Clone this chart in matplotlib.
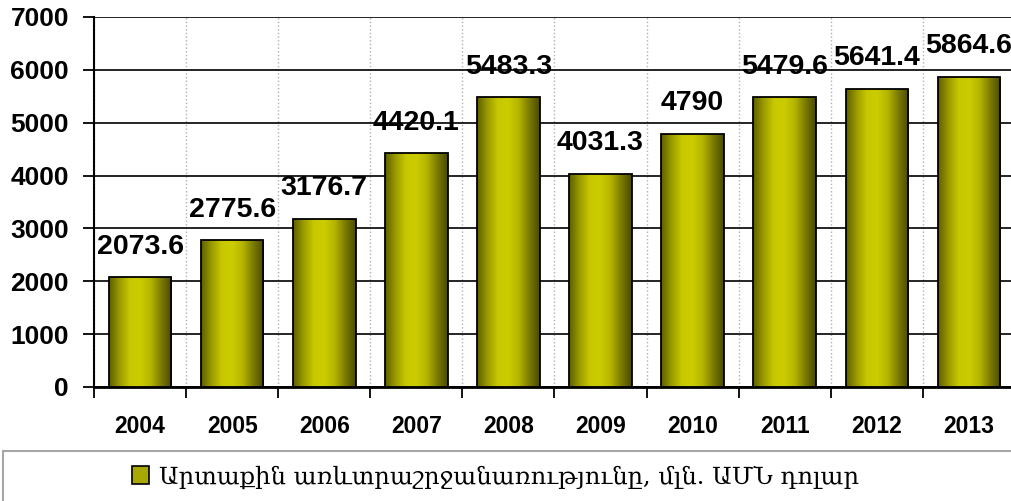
import numpy as np
import matplotlib.pyplot as plt
from matplotlib.colors import LinearSegmentedColormap
from matplotlib.patches import Rectangle

# Data
years = ['2004', '2005', '2006', '2007', '2008', '2009', '2010', '2011', '2012', '2013']
trade = [2073.6, 2775.6, 3176.7, 4420.1, 5483.3, 4031.3, 4790, 5479.6, 5641.4, 5864.6]
value_labels = ['2073.6', '2775.6', '3176.7', '4420.1', '5483.3', '4031.3', '4790', '5479.6', '5641.4', '5864.6']
series_name = 'Արտաքին առևտրաշրջանառությունը, մլն. ԱՄՆ դոլար'

plt.rcParams['font.family'] = ['Liberation Sans', 'DejaVu Sans']

fig = plt.figure(figsize=(10.12, 5.01), dpi=100)
ax = fig.add_axes([94 / 1012, 1 - 387 / 501, 1 - 94 / 1012 + 3 / 1012, 370 / 501])

x = np.arange(len(years))
bars = ax.bar(x, trade, width=0.68, facecolor='none', edgecolor='black', linewidth=1.3, zorder=4)

# cylinder-like shading on each bar
olive = LinearSegmentedColormap.from_list(
    'olive', ['#5e5e00', '#9a9a00', '#c8c800', '#cccc00', '#b4b400', '#7a7a00', '#4a4a00'])
grad = np.linspace(0, 1, 256).reshape(1, -1)
for b in bars:
    x0, w, h = b.get_x(), b.get_width(), b.get_height()
    im = ax.imshow(grad, cmap=olive, extent=[x0, x0 + w, 0, h], aspect='auto',
                   interpolation='bilinear', zorder=3)
    im.set_clip_path(b)

for xi, v, lab in zip(x, trade, value_labels):
    ax.annotate(lab, (xi, v), xytext=(0, 17), textcoords='offset points',
                ha='center', va='baseline', fontsize=20.5, fontweight='bold', zorder=5)

ax.set_xlim(-0.5, 9.5)
ax.set_ylim(0, 7000)
ax.set_yticks(range(0, 7001, 1000))
ax.set_xticks(x)
ax.set_xticklabels(years)
ax.set_xticks(np.arange(-0.5, 10, 1), minor=True)

ax.yaxis.grid(True, color='black', linewidth=1.2, zorder=1)
ax.xaxis.grid(True, which='minor', color='#b0b0b0', linestyle=':', linewidth=1.0, zorder=1)
ax.set_axisbelow(True)

ax.tick_params(axis='y', direction='out', length=8, width=1.3, pad=10, labelsize=19)
for t in ax.get_yticklabels():
    t.set_fontweight('bold')
ax.tick_params(axis='x', which='major', length=0, pad=20, labelsize=16.5)
ax.tick_params(axis='x', which='minor', direction='out', length=8, width=1.3)
for t in ax.get_xticklabels():
    t.set_fontweight('bold')

ax.spines['top'].set_visible(False)
ax.spines['right'].set_visible(False)
ax.spines['left'].set_linewidth(1.5)
ax.spines['bottom'].set_linewidth(2)

# legend area framed across the bottom
fig.patches.append(Rectangle((3 / 1012, -0.05), 1.1, 0.05 + (501 - 451) / 501,
                             transform=fig.transFigure, fill=False,
                             edgecolor='#a6a6a6', linewidth=1.5))
proxy = Rectangle((0, 0), 1, 1, facecolor='#a8a800', edgecolor='black', linewidth=1.2)
fig.legend(handles=[proxy], labels=[series_name], loc='center',
           bbox_to_anchor=(0.49, 1 - 477 / 501), frameon=False,
           handlelength=0.7, handleheight=0.8, handletextpad=0.4,
           prop={'family': ['DejaVu Serif', 'DejaVu Sans'], 'size': 17.5})

fig.savefig('out.png', dpi=100)
